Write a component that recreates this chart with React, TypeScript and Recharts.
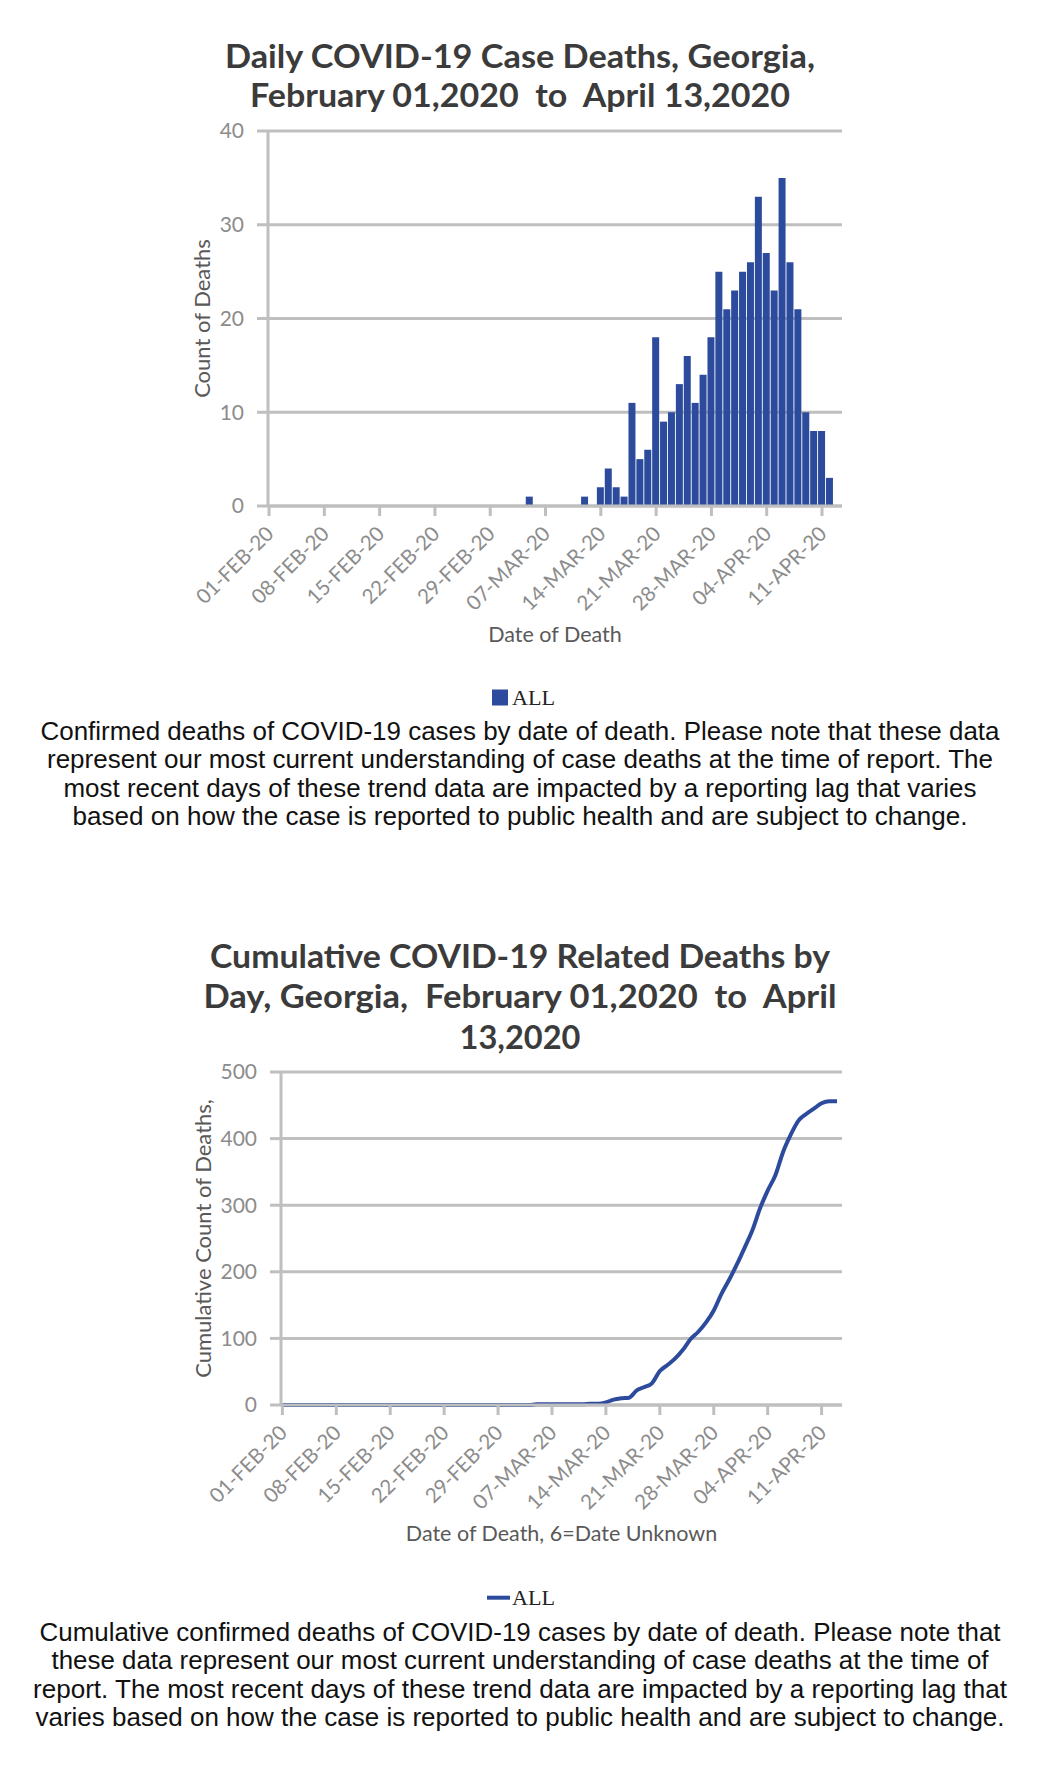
import React from "react";
import { BarChart, Bar, LineChart, Line, XAxis, YAxis, CartesianGrid, Label } from "recharts";

// x-axis ticks: every 7th day, counted from 01-FEB-20 (day 0)
const tickDays = [0, 7, 14, 21, 28, 35, 42, 49, 56, 63, 70];
const tickLabels = [
  "01-FEB-20", "08-FEB-20", "15-FEB-20", "22-FEB-20", "29-FEB-20", "07-MAR-20",
  "14-MAR-20", "21-MAR-20", "28-MAR-20", "04-APR-20", "11-APR-20",
];

// daily deaths, day 0 = 01-FEB-20 ... day 72 = 13-APR-20 (one row per week)
const dailyDeaths = [
  0, 0, 0, 0, 0, 0, 0,
  0, 0, 0, 0, 0, 0, 0,
  0, 0, 0, 0, 0, 0, 0,
  0, 0, 0, 0, 0, 0, 0,
  0, 0, 0, 0, 0, 1, 0,
  0, 0, 0, 0, 0, 1, 0,
  2, 4, 2, 1, 11, 5, 6,
  18, 9, 10, 13, 16, 11, 14,
  18, 25, 21, 23, 25, 26, 33,
  27, 23, 35, 26, 21, 10, 8,
  8, 3, 0,
];

// cumulative deaths, same days
const cumulativeDeaths = [
  0, 0, 0, 0, 0, 0, 0,
  0, 0, 0, 0, 0, 0, 0,
  0, 0, 0, 0, 0, 0, 0,
  0, 0, 0, 0, 0, 0, 0,
  0, 0, 0, 0, 0, 1, 1,
  1, 1, 1, 1, 1, 2, 2,
  4, 8, 10, 11, 22, 27, 33,
  51, 60, 70, 83, 99, 110, 124,
  142, 167, 188, 211, 236, 262, 295,
  322, 345, 380, 406, 427, 437, 445,
  453, 456, 456,
];

const dailyTicks = [0, 10, 20, 30, 40];
const cumTicks = [0, 100, 200, 300, 400, 500];

const barRows = dailyDeaths.map((v, i) => ({ day: i, deaths: v }));
const lineRows = cumulativeDeaths.map((v, i) => ({ day: i, total: v }));

const BLUE = "#2d4b9c";
const GRID = "#bfbfbf";
const TICK_GRAY = "#8c8c8c";
const TITLE_GRAY = "#3b3b3b";
const AXIS_TITLE = "#595959";
const FONT = "Lato, 'Open Sans', sans-serif";

function dateLabel(v: number) {
  const i = tickDays.indexOf(v);
  return i >= 0 ? tickLabels[i] : "";
}

function DateTick(props: any) {
  const { x, y, payload } = props;
  return (
    <g transform={`translate(${x + 6},${y + 17})`}>
      <text textAnchor="end" transform="rotate(-45)" fill={TICK_GRAY} fontSize={20.5} fontFamily={FONT}>
        {dateLabel(payload.value)}
      </text>
    </g>
  );
}

const yTitle = (text: string, fromRight: number) => (props: any) => {
  const vb = props.viewBox;
  const cx = vb.x + vb.width - fromRight;
  const cy = vb.y + vb.height / 2;
  return (
    <text
      x={cx}
      y={cy}
      transform={`rotate(-90, ${cx}, ${cy})`}
      textAnchor="middle"
      dominantBaseline="central"
      fill={AXIS_TITLE}
      fontSize={22}
      fontFamily={FONT}
    >
      {text}
    </text>
  );
};

const xTitle = (text: string) => (props: any) => {
  const vb = props.viewBox;
  return (
    <text x={vb.x + vb.width / 2} y={vb.y + 136} textAnchor="middle" fill={AXIS_TITLE} fontSize={21.5} fontFamily={FONT}>
      {text}
    </text>
  );
};

const axisLine = { stroke: GRID, strokeWidth: 3 };
const tickStyle = { fill: TICK_GRAY, fontSize: 21, fontFamily: FONT };

function DailyChart() {
  return (
    <BarChart width={1046} height={656} data={barRows} margin={{ top: 131, right: 204, bottom: 0, left: 0 }}>
      <CartesianGrid horizontal vertical={false} stroke={GRID} strokeWidth={3} />
      <XAxis
        type="number"
        dataKey="day"
        domain={[-0.13, 72.53]}
        ticks={tickDays}
        interval={0}
        height={150}
        axisLine={axisLine}
        tickLine={axisLine}
        tickSize={10}
        tick={<DateTick />}
      >
        <Label content={xTitle("Date of Death")} />
      </XAxis>
      <YAxis
        type="number"
        domain={[0, 40]}
        ticks={dailyTicks}
        width={268}
        axisLine={axisLine}
        tickLine={axisLine}
        tickSize={11}
        tickMargin={13}
        tick={tickStyle}
      >
        <Label content={yTitle("Count of Deaths", 67)} />
      </YAxis>
      <Bar dataKey="deaths" fill={BLUE} barSize={7} isAnimationActive={false} />
    </BarChart>
  );
}

function CumulativeChart() {
  return (
    <LineChart width={1046} height={655} data={lineRows} margin={{ top: 172, right: 204, bottom: 0, left: 0 }}>
      <CartesianGrid horizontal vertical={false} stroke={GRID} strokeWidth={3} />
      <XAxis
        type="number"
        dataKey="day"
        domain={[-0.18, 72.65]}
        ticks={tickDays}
        interval={0}
        height={150}
        axisLine={axisLine}
        tickLine={axisLine}
        tickSize={10}
        tick={<DateTick />}
      >
        <Label content={xTitle("Date of Death, 6=Date Unknown")} />
      </XAxis>
      <YAxis
        type="number"
        domain={[0, 500]}
        ticks={cumTicks}
        width={281}
        axisLine={axisLine}
        tickLine={axisLine}
        tickSize={11}
        tickMargin={13}
        tick={tickStyle}
      >
        <Label content={yTitle("Cumulative Count of Deaths,", 79)} />
      </YAxis>
      <Line
        type="monotone"
        dataKey="total"
        stroke={BLUE}
        strokeWidth={4}
        dot={false}
        activeDot={false}
        isAnimationActive={false}
      />
    </LineChart>
  );
}

const title1 = ["Daily COVID-19 Case Deaths, Georgia,", "February 01,2020  to  April 13,2020"];
const title2 = ["Cumulative COVID-19 Related Deaths by", "Day, Georgia,  February 01,2020  to  April", "13,2020"];
const caption1 = [
  "Confirmed deaths of COVID-19 cases by date of death. Please note that these data",
  "represent our most current understanding of case deaths at the time of report. The",
  "most recent days of these trend data are impacted by a reporting lag that varies",
  "based on how the case is reported to public health and are subject to change.",
];
const caption2 = [
  "Cumulative confirmed deaths of COVID-19 cases by date of death. Please note that",
  "these data represent our most current understanding of case deaths at the time of",
  "report. The most recent days of these trend data are impacted by a reporting lag that",
  "varies based on how the case is reported to public health and are subject to change.",
];

function Lines(props: { lines: string[]; x: number; y: number[]; widths: number[]; size: number; bold?: boolean; color: string; font: string }) {
  return (
    <>
      {props.lines.map((t, i) => (
        <text
          key={i}
          x={props.x}
          y={props.y[i]}
          textAnchor="middle"
          textLength={props.widths[i]}
          lengthAdjust="spacingAndGlyphs"
          fontSize={props.size}
          fontWeight={props.bold ? 700 : 400}
          fill={props.color}
          fontFamily={props.font}
          style={{ whiteSpace: "pre" }}
        >
          {t}
        </text>
      ))}
    </>
  );
}

export default function App() {
  const sans = "'Liberation Sans', Arial, sans-serif";
  const legendFont = "'Liberation Serif', 'DejaVu Serif', serif";
  return (
    <div style={{ position: "absolute", left: 0, top: 0, width: 1046, height: 1772, background: "#fff" }}>
      <div style={{ position: "absolute", left: 0, top: 0 }}>
        <DailyChart />
      </div>
      <div style={{ position: "absolute", left: 0, top: 900 }}>
        <CumulativeChart />
      </div>
      <svg width={1046} height={1772} style={{ position: "absolute", left: 0, top: 0, pointerEvents: "none" }}>
        <Lines lines={title1} x={520} y={[68.3, 107.3]} widths={[590, 540]} size={32} bold color={TITLE_GRAY} font={FONT} />
        <Lines lines={title2} x={520} y={[968.3, 1008.3, 1049.3]} widths={[620, 633, 121]} size={32} bold color={TITLE_GRAY} font={FONT} />

        <rect x={492} y={689.5} width={16} height={16} fill={BLUE} />
        <text x={512} y={705} fontSize={22} fontFamily={legendFont} fill="#222" textLength={43} lengthAdjust="spacingAndGlyphs">ALL</text>
        <Lines lines={caption1} x={520} y={[740, 768.4, 796.8, 825.2]} widths={[959, 946, 913, 895]} size={25} color="#111" font={sans} />

        <line x1={487} x2={510} y1={1597.7} y2={1597.7} stroke={BLUE} strokeWidth={4} />
        <text x={512} y={1605} fontSize={22} fontFamily={legendFont} fill="#222" textLength={43} lengthAdjust="spacingAndGlyphs">ALL</text>
        <Lines lines={caption2} x={520} y={[1641, 1669.3, 1697.6, 1726]} widths={[961, 937, 974, 969]} size={25} color="#111" font={sans} />
      </svg>
    </div>
  );
}
